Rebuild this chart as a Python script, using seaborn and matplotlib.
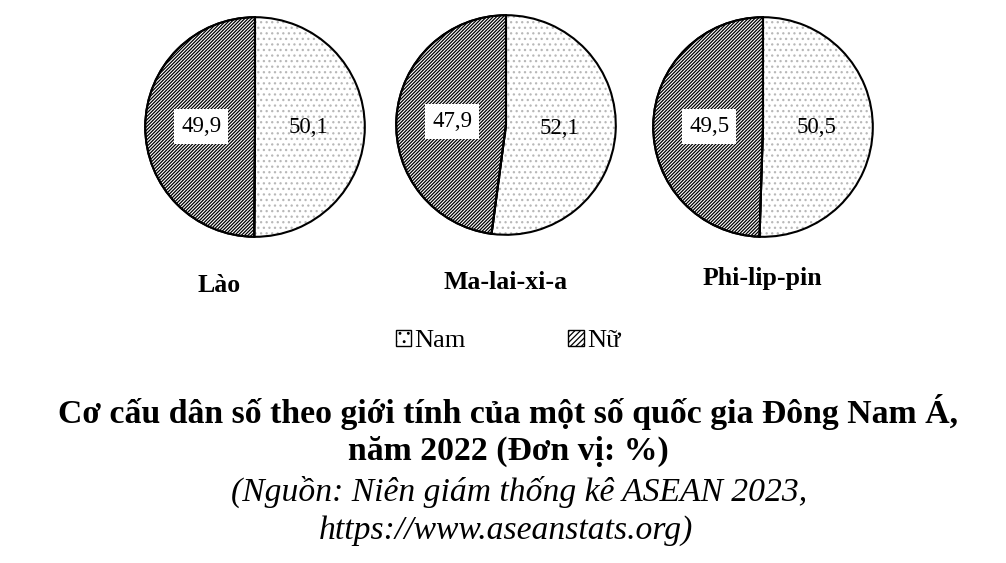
import matplotlib
matplotlib.use("Agg")
import numpy as np
import matplotlib.pyplot as plt
import matplotlib.patches as mpatches
import seaborn as sns

# Data
countries = ["Lào", "Ma-lai-xi-a", "Phi-lip-pin"]
nam = [50.1, 52.1, 50.5]
nu = [49.9, 47.9, 49.5]
series = ["Nam", "Nữ"]

sns.set_theme(style="white")
plt.rcParams['font.family'] = ['Liberation Serif', 'DejaVu Serif']
plt.rcParams['text.color'] = 'black'
plt.rcParams['hatch.linewidth'] = 0.9

W, H = 1006, 563
fig = plt.figure(figsize=(W / 100, H / 100), dpi=100)

centers = [(255, 127), (506, 125), (763, 127)]
name_pos = [(219, 285), (506, 283), (762, 279)]
r = 112


def fmt(v):
    return f"{v:.1f}".replace(".", ",")


for i, c in enumerate(countries):
    cx, cy = centers[i]
    ax = fig.add_axes([(cx - r) / W, 1 - (cy + r) / H, 2 * r / W, 2 * r / H])
    wedges, _ = ax.pie([nam[i], nu[i]], startangle=90, counterclock=False,
                       colors=["white", "white"], radius=1,
                       wedgeprops=dict(edgecolor="black", linewidth=1.4))
    wedges[0].set_hatch("...")
    wedges[0].set_edgecolor("#b8b8b8")
    wedges[0].set_linewidth(0)
    wedges[1].set_hatch("//////////")
    wedges[1].set_edgecolor("black")
    # outline on top
    for w in wedges:
        ax.add_patch(mpatches.Wedge(w.center, w.r, w.theta1, w.theta2,
                                    fill=False, edgecolor="black", linewidth=1.5))
    # value labels
    for j, w in enumerate(wedges):
        ang = np.deg2rad((w.theta1 + w.theta2) / 2)
        x, y = 0.49 * np.cos(ang), 0.49 * np.sin(ang)
        val = [nam[i], nu[i]][j]
        if j == 1:
            ax.text(x, y, fmt(val), ha="center", va="center", fontsize=16.5,
                    bbox=dict(facecolor="white", edgecolor="none", pad=5))
        else:
            ax.text(x, y, fmt(val), ha="center", va="center", fontsize=16.5)
    ax.set_xlim(-1.02, 1.02)
    ax.set_ylim(-1.02, 1.02)
    ax.set_aspect("equal")
    ax.axis("off")
    nx, ny = name_pos[i]
    fig.text(nx / W, 1 - ny / H, c, ha="center", va="center",
             fontsize=18.5, fontweight="bold")

# legend
handles = [mpatches.Patch(facecolor="white", edgecolor="black", hatch="..", label=series[0]),
           mpatches.Patch(facecolor="white", edgecolor="black", hatch="//////", label=series[1])]
fig.legend(handles=handles, loc="center", bbox_to_anchor=(0.505, 1 - 341 / H),
           ncol=2, frameon=False, fontsize=19, handlelength=0.6, handleheight=0.6,
           handletextpad=0.1, columnspacing=3.9)

# title and source
fig.text(0.505, 1 - 412 / H, "Cơ cấu dân số theo giới tính của một số quốc gia Đông Nam Á,",
         ha="center", va="center", fontsize=24.3, fontweight="bold")
fig.text(0.505, 1 - 451 / H, "năm 2022 (Đơn vị: %)",
         ha="center", va="center", fontsize=24.3, fontweight="bold")
fig.text(0.516, 1 - 492 / H, "(Nguồn: Niên giám thống kê ASEAN 2023,",
         ha="center", va="center", fontsize=24.2, style="italic")
fig.text(0.503, 1 - 531 / H, "https://www.aseanstats.org)",
         ha="center", va="center", fontsize=24.2, style="italic")

fig.savefig("out.png", dpi=100)
